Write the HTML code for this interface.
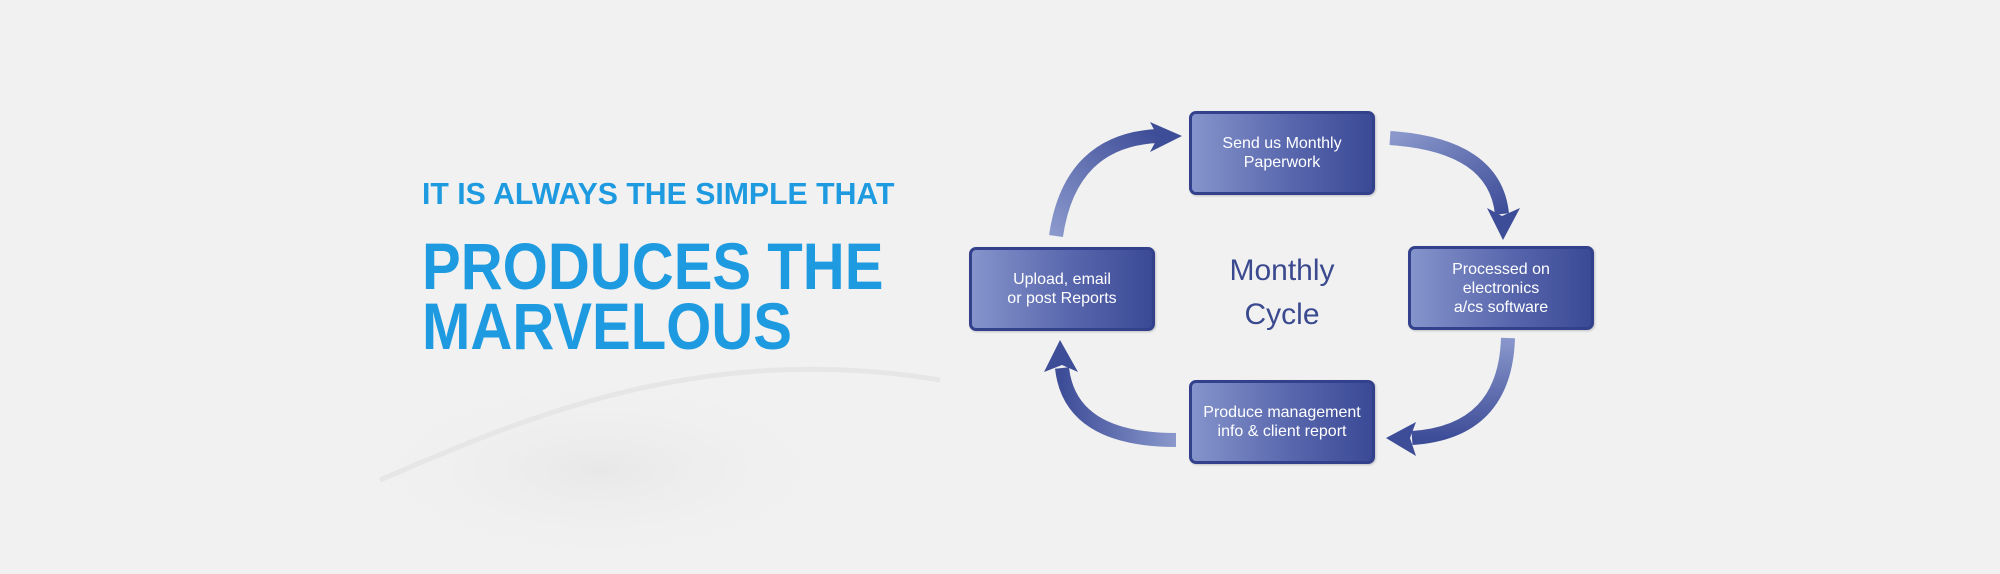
<!DOCTYPE html>
<html><head><meta charset="utf-8"><style>
html,body{margin:0;padding:0}
body{width:2000px;height:574px;position:relative;overflow:hidden;background:#f1f1f1;font-family:"Liberation Sans",sans-serif}
.t{position:absolute;left:422px;color:#1e9be0;font-weight:bold;white-space:nowrap;transform-origin:0 0}
.box{position:absolute;width:180px;height:78px;border:3px solid #33418c;border-radius:7px;background:linear-gradient(90deg,#8594cb,#5866ad 55%,#3b4a96);color:#fff;display:flex;align-items:center;justify-content:center;text-align:center;font-size:16px;line-height:19px;box-shadow:1px 1px 2px rgba(0,0,0,.2)}
.c{position:absolute;color:#3b4a8f;font-size:30px;text-align:center;width:160px}
</style></head><body>
<svg width="2000" height="574" style="position:absolute;left:0;top:0">
<defs>
<radialGradient id="w" cx="0.5" cy="0.5" r="0.5"><stop offset="0" stop-color="#e8e8e8"/><stop offset="1" stop-color="#f1f1f1" stop-opacity="0"/></radialGradient>
<linearGradient id="g1" x1="0" y1="1" x2="1" y2="0"><stop offset="0" stop-color="#8a98cc"/><stop offset="1" stop-color="#3e4d98"/></linearGradient>
<linearGradient id="g2" x1="0" y1="0" x2="1" y2="1"><stop offset="0" stop-color="#8a98cc"/><stop offset="1" stop-color="#3e4d98"/></linearGradient>
<linearGradient id="g3" x1="0" y1="0" x2="0" y2="1"><stop offset="0" stop-color="#8a98cc"/><stop offset="1" stop-color="#3e4d98"/></linearGradient>
<linearGradient id="g4" x1="1" y1="0" x2="0" y2="0"><stop offset="0" stop-color="#8a98cc"/><stop offset="1" stop-color="#3e4d98"/></linearGradient>
</defs>
<ellipse cx="600" cy="470" rx="260" ry="100" fill="url(#w)"/>
<path d="M380 480 C520 420 700 340 940 380" stroke="#e6e6e6" stroke-width="5" fill="none"/>
<g fill="none" stroke-width="14" stroke-linecap="butt">
<path d="M1056 236 Q1070 140 1158 136" stroke="url(#g1)"/>
<path d="M1390 138 Q1495 145 1502 214" stroke="url(#g2)"/>
<path d="M1508 338 Q1505 432 1412 438" stroke="url(#g3)"/>
<path d="M1176 440 Q1070 440 1062 368" stroke="url(#g4)"/>
</g>
<g fill="#3e4d98">
<polygon points="1182,136 1150,122 1158,137 1150,152"/>
<polygon points="1503,240 1487,208 1502,216 1520,208"/>
<polygon points="1386,438 1416,422 1410,438 1416,456"/>
<polygon points="1060,340 1044,372 1062,365 1078,372"/>
</g>
</svg>
<div class="t" style="top:176px;font-size:31px;transform:scaleX(0.975)">IT IS ALWAYS THE SIMPLE THAT</div>
<div class="t" style="top:236px;font-size:66px;line-height:60px;transform:scaleX(0.88)">PRODUCES THE<br>MARVELOUS</div>
<div class="box" style="left:1189px;top:111px">Send us Monthly<br>Paperwork</div>
<div class="box" style="left:1408px;top:246px">Processed on<br>electronics<br>a/cs software</div>
<div class="box" style="left:969px;top:247px">Upload, email<br>or post Reports</div>
<div class="box" style="left:1189px;top:380px">Produce management<br>info &amp; client report</div>
<div class="c" style="left:1202px;top:254px">Monthly</div>
<div class="c" style="left:1202px;top:298px">Cycle</div>
</body></html>
